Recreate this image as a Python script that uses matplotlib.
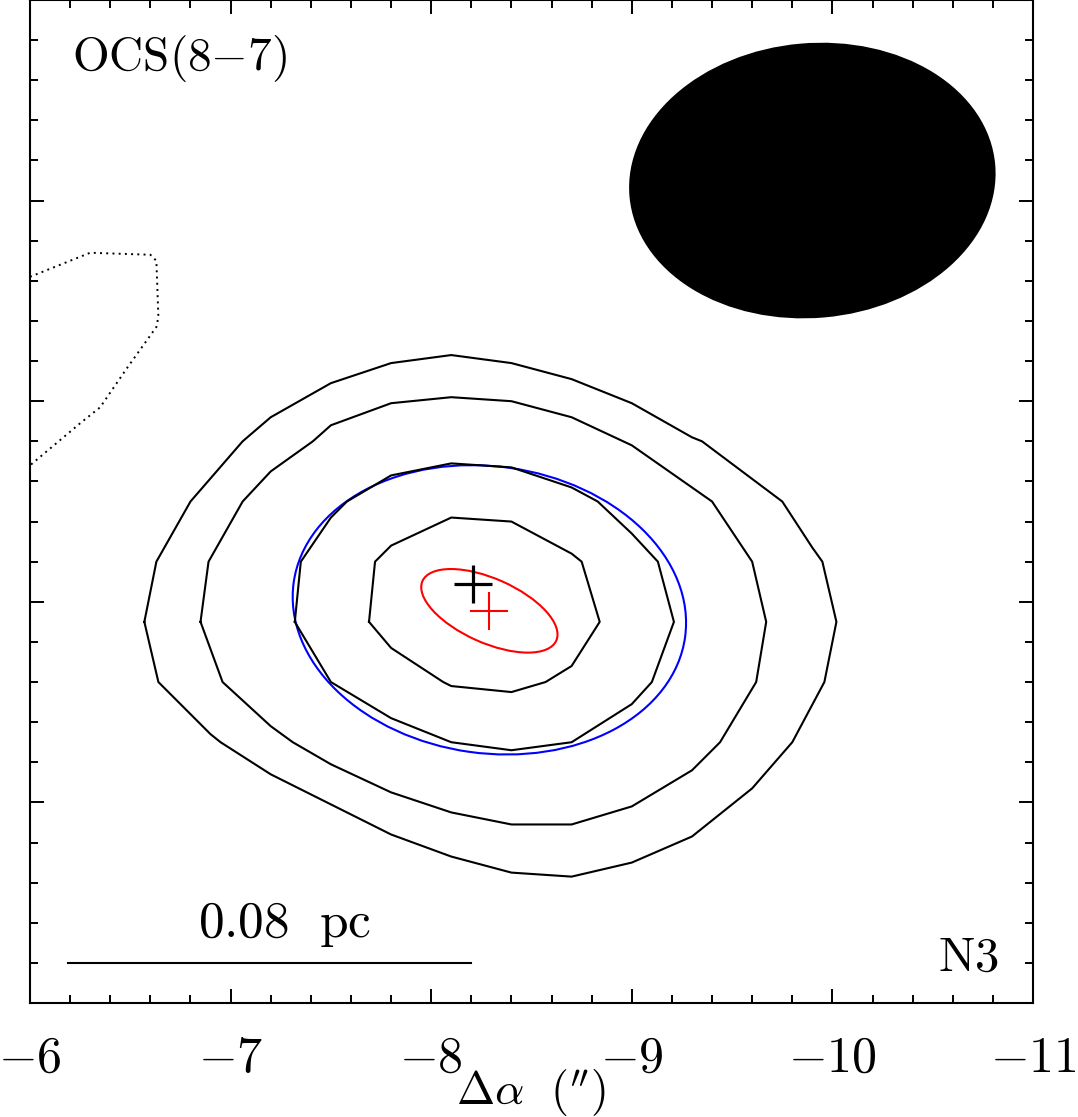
import matplotlib
matplotlib.use("Agg")
import matplotlib.pyplot as plt
from matplotlib.patches import Ellipse
from matplotlib.ticker import MultipleLocator

plt.rcParams['mathtext.fontset'] = 'cm'

# contour levels (offsets in arcsec)
outer_x = [-6.57, -6.63, -6.80, -7.06, -7.20, -7.50, -7.80, -8.10, -8.40, -8.70, -9.00, -9.30,
           -9.35, -9.75, -9.90, -9.95, -10.02, -9.96, -9.80, -9.60, -9.30, -9.00, -8.70, -8.40,
           -8.10, -7.80, -7.50, -7.20, -6.95, -6.90, -6.64, -6.57]
outer_y = [-0.10, 0.20, 0.50, 0.80, 0.92, 1.09, 1.19, 1.23, 1.19, 1.11, 0.99, 0.82,
           0.80, 0.50, 0.27, 0.20, -0.10, -0.40, -0.70, -0.93, -1.17, -1.30, -1.37, -1.35,
           -1.27, -1.16, -1.01, -0.86, -0.70, -0.66, -0.40, -0.10]

second_x = [-6.85, -6.89, -7.06, -7.20, -7.41, -7.50, -7.80, -8.10, -8.40, -8.70, -9.00, -9.30,
            -9.40, -9.60, -9.67, -9.62, -9.44, -9.30, -9.00, -8.70, -8.40, -8.10, -7.80, -7.50,
            -7.31, -7.20, -6.96, -6.85]
second_y = [-0.10, 0.20, 0.50, 0.65, 0.80, 0.88, 0.99, 1.02, 1.00, 0.92, 0.78, 0.57,
            0.50, 0.20, -0.10, -0.40, -0.70, -0.84, -1.02, -1.11, -1.11, -1.05, -0.95, -0.81,
            -0.70, -0.62, -0.40, -0.10]

third_x = [-7.32, -7.35, -7.50, -7.58, -7.80, -8.10, -8.40, -8.70, -8.83, -9.00, -9.13, -9.21,
           -9.10, -9.00, -8.70, -8.40, -8.10, -7.80, -7.50, -7.32]
third_y = [-0.10, 0.20, 0.42, 0.50, 0.63, 0.69, 0.67, 0.57, 0.50, 0.34, 0.20, -0.10,
           -0.40, -0.51, -0.70, -0.74, -0.70, -0.58, -0.40, -0.10]

inner_x = [-7.69, -7.72, -7.80, -8.10, -8.40, -8.70, -8.75, -8.84, -8.70, -8.57, -8.40, -8.10,
           -8.06, -7.80, -7.69]
inner_y = [-0.10, 0.20, 0.28, 0.42, 0.40, 0.24, 0.20, -0.10, -0.32, -0.40, -0.45, -0.42,
           -0.40, -0.23, -0.10]

neg_x = [-6.00, -6.30, -6.60, -6.63, -6.64, -6.63, -6.48, -6.35, -6.25, -6.00]
neg_y = [1.62, 1.74, 1.73, 1.70, 1.42, 1.37, 1.16, 0.97, 0.89, 0.68]

# beam (x, y, major, minor, angle)
beam = (-9.90, 2.10, 1.83, 1.37, -5)
# gaussian fits: blue = image fit, red = uv fit
fit_blue = (-8.29, -0.04, 1.97, 1.43, 8)
fit_red = (-8.29, -0.045, 0.73, 0.32, 24)
peak_pos = (-8.21, 0.09)
fit_pos = (-8.29, -0.045)

scale_bar_x = [-6.19, -8.20]
scale_bar_y = -1.80

xticks = [-6, -7, -8, -9, -10, -11]
xtick_labels = ['$-6$', '$-7$', '$-8$', '$-9$', '$-10$', '$-11$']

fig = plt.figure(figsize=(10.78, 11.17), dpi=100)
ax = fig.add_axes([0.02783, 0.10206, 0.93043, 0.89794])

for cx, cy in [(outer_x, outer_y), (second_x, second_y), (third_x, third_y), (inner_x, inner_y)]:
    ax.plot(cx, cy, color='black', lw=1.5)
ax.plot(neg_x, neg_y, color='black', lw=1.4, linestyle=(0, (1, 2.2)))

bx, by, bw, bh, ba = beam
ax.add_patch(Ellipse((bx, by), bw, bh, angle=ba, facecolor='black', edgecolor='none'))
for (ex, ey, ew, eh, ea), col in [(fit_blue, 'blue'), (fit_red, 'red')]:
    ax.add_patch(Ellipse((ex, ey), ew, eh, angle=ea, facecolor='none', edgecolor=col, lw=1.5))

ax.plot(*peak_pos, marker='+', color='black', markersize=27, markeredgewidth=2.3)
ax.plot(*fit_pos, marker='+', color='red', markersize=27, markeredgewidth=1.5)

ax.plot(scale_bar_x, [scale_bar_y, scale_bar_y], color='black', lw=1.5)
ax.text(-7.27, -1.67, r'$\mathrm{0.08\ \ pc}$', fontsize=37, ha='center', va='baseline')
ax.text(-6.21, 2.65, r'$\mathrm{OCS(8{-}7)}$', fontsize=34, ha='left', va='baseline')
ax.text(-10.83, -1.84, r'$\mathrm{N3}$', fontsize=35, ha='right', va='baseline')

ax.set_xlim(-6, -11)
ax.set_ylim(-2, 3)
ax.set_aspect('equal')
ax.set_xticks(xticks)
ax.set_xticklabels(xtick_labels, fontsize=36)
ax.xaxis.set_minor_locator(MultipleLocator(0.2))
ax.yaxis.set_major_locator(MultipleLocator(1))
ax.yaxis.set_minor_locator(MultipleLocator(0.2))
ax.tick_params(which='both', direction='in', top=True, right=True, width=1.4, labelleft=False)
ax.tick_params(which='major', length=10, pad=22)
ax.tick_params(which='minor', length=5.8)
for s in ax.spines.values():
    s.set_linewidth(1.5)

ax.set_xlabel(r"$\Delta\alpha\ \ (^{\prime\prime})$", fontsize=33)
ax.xaxis.set_label_coords(0.5, -0.064)

fig.savefig('out.png', dpi=100)
